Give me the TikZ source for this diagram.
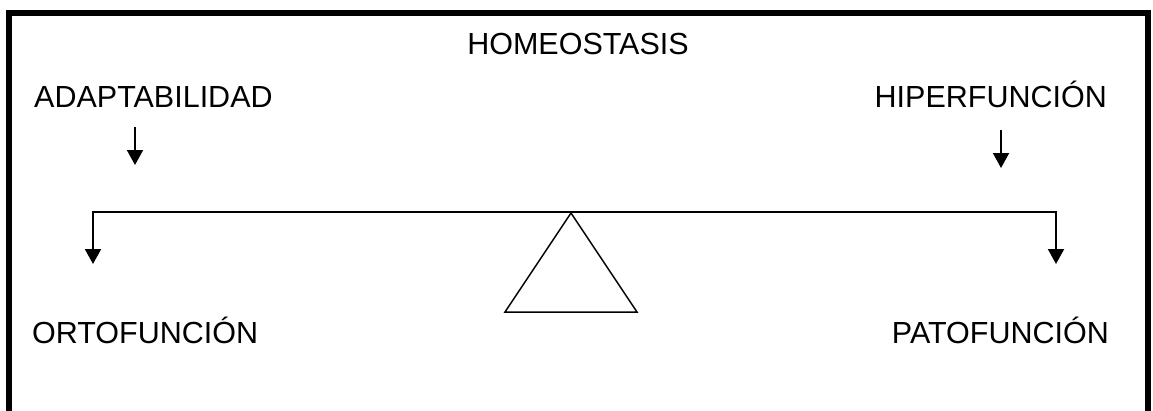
\documentclass[tikz,border=0pt]{standalone}
\usepackage{fontspec}
\setmainfont{Liberation Sans}
\usetikzlibrary{arrows.meta, positioning}

\begin{document}
\begin{tikzpicture}[
    x=1pt, y=-1pt,
    label/.style={
        inner sep=0pt,
        font=\fontsize{30.5}{36}\selectfont
    },
    downlink/.style={
        -{Triangle[length=15pt, width=16pt]},
        line width=2pt
    },
    beamlink/.style={
        {Triangle[length=15pt, width=16pt]}-{Triangle[length=15pt, width=16pt]},
        line width=2pt
    }
]
    \useasboundingbox (0,0) rectangle (1153,410);
    \draw[line width=6pt] (9,412) -- (9,13) -- (1148,13) -- (1148,412);

    \node[label, anchor=base] (homeostasis) at (578,54) {HOMEOSTASIS};
    \node[label, anchor=base west] (adaptability) at (34,107) {ADAPTABILIDAD};
    \node[label, anchor=base east] (hyperfunction) at (1107,107) {HIPERFUNCIÓN};
    \node[label, anchor=base west] (orthofunction) at (32,343) {ORTOFUNCIÓN};
    \node[label, anchor=base east] (pathofunction) at (1109,343) {PATOFUNCIÓN};

    \coordinate (leftStart) at (135,127);
    \coordinate (leftEnd) at (135,165);
    \coordinate (rightStart) at (1001,130);
    \coordinate (rightEnd) at (1001,168);
    \draw[downlink] (leftStart) -- (leftEnd);
    \draw[downlink] (rightStart) -- (rightEnd);

    \coordinate (beamLeft) at (93,264);
    \coordinate (beamRight) at (1056,212);
    \coordinate (beamRightEnd) at (1056,264);
    \draw[beamlink] (beamLeft) |- (beamRight) -- (beamRightEnd);

    \coordinate (fulcrum) at (571,213);
    \draw[line width=1.5pt, line join=miter] (fulcrum) -- (505,312) -- (637,312) -- cycle;
\end{tikzpicture}
\end{document}
